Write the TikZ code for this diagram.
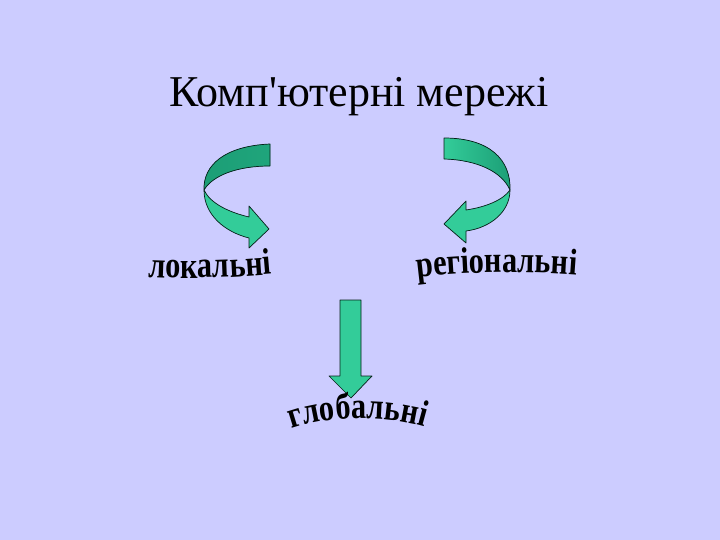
\documentclass[tikz,border=0pt]{standalone}
\usepackage{fontspec}
\setmainfont{Liberation Serif}[Ligatures=TeXOff]
\newfontfamily\wordart{Liberation Serif}[FakeStretch=0.82]
\usepackage{xcolor}
\usepackage{tikz}
\usetikzlibrary{decorations.text}

\definecolor{slide}{RGB}{204,204,255}
\definecolor{ribbon}{RGB}{51,204,153}
\definecolor{ribbondark}{RGB}{28,158,118}

\tikzset{
  band/.style={draw=black!80!ribbondark, line width=0.7pt, line join=round, fill=ribbon},
  backband/.style={band, fill=ribbondark},
  arched/.style={decorate, decoration={text along path, text align=center, text={|\wordart\bfseries\fontsize{37}{37}\selectfont|#1}}}
}

\begin{document}
\begin{tikzpicture}[x=1pt, y=-1pt]
\fill[slide] (0,0) rectangle (720,540);
\useasboundingbox (0,0) rectangle (720,540);

\node (title) at (359,97) {\fontsize{44}{44}\selectfont Комп'ютерні мережі};

% left ribbon
\path[backband, left color=ribbondark, right color=ribbondark!85!ribbon] (270,144) .. controls (225,146) and (203,165) .. (204,190)
      .. controls (213,175) and (238,166) .. (270,166) -- cycle;
\path[band] (204,190) .. controls (204,215) and (225,232) .. (249,238) -- (249,248) -- (269,229) -- (249,206) -- (249,217)
      .. controls (228,212) and (210,203) .. (204,190) -- cycle;

% right ribbon
\path[backband, left color=ribbon, right color=ribbondark] (444,138) .. controls (490,138) and (511,160) .. (510,190)
      .. controls (502,172) and (478,160) .. (444,159) -- cycle;
\path[band] (510,190) .. controls (510,212) and (490,228) .. (466,231) -- (466,243) -- (444,224) -- (466,201) -- (466,210)
      .. controls (486,207) and (503,200) .. (510,190) -- cycle;

% down arrow
\path[band] (340,300) -- (361,300) -- (361,376) -- (372,376) -- (351,398) -- (329,376) -- (340,376) -- cycle;

% words
\coordinate (loc1) at (146,277);
\coordinate (loc2) at (274,274);
\path[arched={локальні}] (loc1) .. controls (185,279) and (230,278) .. (loc2);

\coordinate (reg1) at (414,278);
\coordinate (reg2) at (580,275);
\path[arched={регіональні}] (reg1) .. controls (465,271) and (530,271) .. (reg2);

\coordinate (glob1) at (280,434);
\coordinate (glob2) at (436,431);
\path[arched={глобальні}] (glob1) .. controls (318,414) and (396,414) .. (glob2);
\end{tikzpicture}
\end{document}
